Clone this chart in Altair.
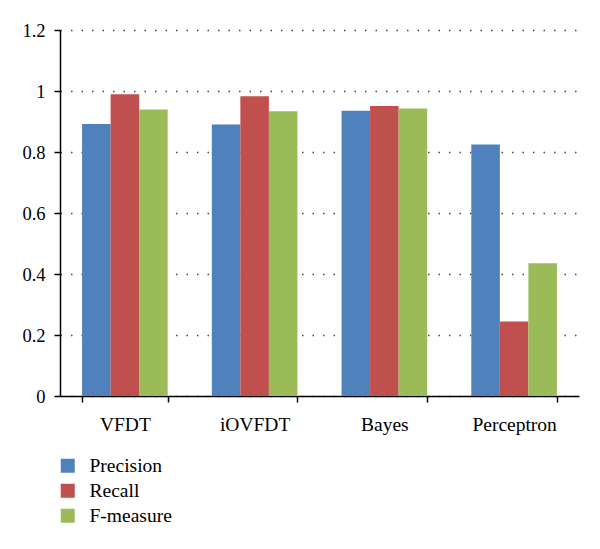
import altair as alt
import pandas as pd

categories = ["VFDT", "iOVFDT", "Bayes", "Perceptron"]
metrics = ["Precision", "Recall", "F-measure"]
precision = [0.892, 0.890, 0.935, 0.825]
recall = [0.989, 0.983, 0.951, 0.244]
fmeasure = [0.939, 0.934, 0.943, 0.435]
colors = ["#4F81BD", "#C0504D", "#9BBB59"]
y_ticks = [0, 0.2, 0.4, 0.6, 0.8, 1.0, 1.2]

rows = []
for i, c in enumerate(categories):
    for m, vals in zip(metrics, [precision, recall, fmeasure]):
        rows.append({"model": c, "metric": m, "value": vals[i]})
df = pd.DataFrame(rows)

FONT = "Liberation Serif"

chart = alt.Chart(df).mark_bar().encode(
    x=alt.X(
        "model:N",
        sort=categories,
        scale=alt.Scale(paddingInner=0.34, paddingOuter=0.17),
        axis=alt.Axis(
            title=None, labelAngle=0, tickBand="extent", ticks=True,
            tickSize=6, tickColor="black", tickWidth=1.5,
            domainColor="black", domainWidth=1.5,
            labelFont=FONT, labelFontSize=19.5, labelColor="black",
            labelPadding=13, grid=False,
        ),
    ),
    xOffset=alt.XOffset("metric:N", sort=metrics,
                        scale=alt.Scale(paddingInner=0, paddingOuter=0)),
    y=alt.Y(
        "value:Q",
        scale=alt.Scale(domain=[0, 1.2], nice=False, zero=True),
        axis=alt.Axis(
            title=None, values=y_ticks, format=".1~f",
            tickSize=6, tickColor="black", tickWidth=1.5,
            domainColor="black", domainWidth=1.5,
            labelFont=FONT, labelFontSize=18.5, labelColor="black",
            labelPadding=9,
            grid=True, gridColor="#444444", gridDash=[1.5, 9], gridWidth=1.3,
        ),
    ),
    color=alt.Color(
        "metric:N",
        sort=metrics,
        scale=alt.Scale(domain=metrics, range=colors),
        legend=alt.Legend(
            title=None, orient="none", legendX=-2, legendY=426,
            symbolType="square", symbolSize=196, symbolStrokeWidth=0,
            labelFont=FONT, labelFontSize=19.5, labelColor="black",
            labelOffset=12, rowPadding=4,
        ),
    ),
).properties(
    width=519,
    height=366,
    autosize=alt.AutoSizeParams(type="none"),
    padding={"left": 52, "top": 22, "right": 13, "bottom": 145},
).configure_view(stroke=None)

chart.save("out.html", embed_options={"renderer": "svg", "actions": False})
